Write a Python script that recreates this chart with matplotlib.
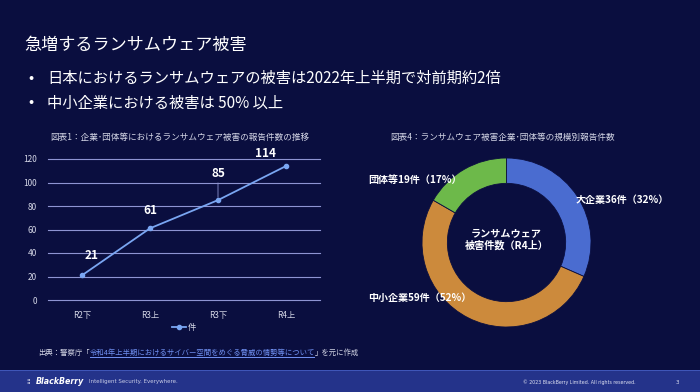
import matplotlib
matplotlib.use('Agg')
import matplotlib.pyplot as plt
from matplotlib.patches import Rectangle
import numpy as np

plt.rcParams['font.family'] = ['Noto Sans CJK JP', 'DejaVu Sans']

# data
periods = ['R2下', 'R3上', 'R3下', 'R4上']
counts = [21, 61, 85, 114]

size_labels = ['大企業', '中小企業', '団体等']
size_counts = [36, 59, 19]
size_pcts = [32, 52, 17]

BG = '#0a0e3f'
GRID = '#8e94d2'
TXT = '#d4d6e6'
LINE = '#7aa6f2'
LINK = '#6f8ff0'
pie_colors = ['#4a6cd0', '#cc8a3c', '#6db94a']

fig = plt.figure(figsize=(7, 3.92), dpi=100)
fig.patch.set_facecolor(BG)

# slide header
fig.text(24 / 700, 1 - 45 / 392, '急増するランサムウェア被害', color='white',
         fontsize=12.3, va='center', ha='left')
fig.text(28 / 700, 1 - 78 / 392, '•', color='white', fontsize=11, va='center')
fig.text(47 / 700, 1 - 78 / 392, '日本におけるランサムウェアの被害は2022年上半期で対前期約2倍',
         color='white', fontsize=11, va='center')
fig.text(28 / 700, 1 - 103 / 392, '•', color='white', fontsize=11, va='center')
fig.text(47 / 700, 1 - 103 / 392, '中小企業における被害は 50% 以上',
         color='white', fontsize=11, va='center')

# ---- line chart ----
ax = fig.add_axes([48 / 700, 1 - 300 / 392, 272 / 700, 141 / 392])
ax.set_facecolor(BG)
x = np.arange(len(periods))
ax.plot(x, counts, color=LINE, lw=1.3, marker='o', ms=3, label='件')
ax.set_xlim(-0.5, len(periods) - 0.5)
ax.set_ylim(0, 120)
ax.set_yticks(range(0, 121, 20))
ax.set_xticks(x)
ax.set_xticklabels(periods)
ax.grid(axis='y', color=GRID, lw=0.8)
for gl in ax.get_ygridlines():
    gl.set_clip_on(False)
ax.set_axisbelow(True)
for s in ax.spines.values():
    s.set_visible(False)
ax.tick_params(length=0, colors=TXT, labelsize=6)
ax.tick_params(axis='y', pad=8)
ax.tick_params(axis='x', pad=8)

offsets = [(10, 13), (0, 11), (0, 20), (-20, 6)]
for xi, v, off in zip(x, counts, offsets):
    arrow = dict(arrowstyle='-', color=GRID, lw=0.6, shrinkA=0, shrinkB=2) if off[1] > 15 else None
    ax.annotate(str(v), (xi, v), xytext=off, textcoords='offset pixels',
                ha='center', va='bottom',
                color='white', fontsize=8.5, fontweight='bold', arrowprops=arrow)

ax.legend(loc='upper center', bbox_to_anchor=(0.5, -0.11), frameon=False,
          fontsize=6, labelcolor=TXT, handlelength=1.6, handletextpad=0.2)
fig.text(180 / 700, 1 - 137 / 392,
         '図表1：企業･団体等におけるランサムウェア被害の報告件数の推移',
         color=TXT, fontsize=6.2, ha='center', va='center')

# ---- donut chart ----
r_px = 84.5
cx, cy = 506.5, 242.5
ax2 = fig.add_axes([(cx - r_px) / 700, 1 - (cy + r_px) / 392, 2 * r_px / 700, 2 * r_px / 392])
ax2.pie(size_counts, colors=pie_colors, startangle=90, counterclock=False,
        wedgeprops=dict(width=0.3, edgecolor=BG, linewidth=0.6))
ax2.set_xlim(-1, 1)
ax2.set_ylim(-1, 1)
ax2.axis('off')

label_pos = [(0.82, 0.50), (-1.64, -0.66), (-1.64, 0.74)]
for (lx, ly), name, c, p in zip(label_pos, size_labels, size_counts, size_pcts):
    ax2.text(lx, ly, f'{name}{c}件（{p}%）', color='white', fontsize=7.2,
             fontweight='bold', ha='left', va='center', clip_on=False)
ax2.text(0, 0.03, 'ランサムウェア\n被害件数（R4上）', color='white', fontsize=7.3,
         fontweight='bold', ha='center', va='center', linespacing=1.2)
fig.text(390 / 700, 1 - 137 / 392, '図表4：ランサムウェア被害企業･団体等の規模別報告件数',
         color=TXT, fontsize=6.2, ha='left', va='center')

# ---- source note (pieces chained left to right) ----
fig.canvas.draw()
renderer = fig.canvas.get_renderer()
src_y = 1 - 353 / 392
pieces = [('出典：警察庁「', TXT, False),
          ('令和4年上半期におけるサイバー空間をめぐる脅威の情勢等について', LINK, True),
          ('」を元に作成', TXT, False)]
xpos = 38
for s, col, under in pieces:
    t = fig.text(xpos / 700, src_y, s, color=col, fontsize=5.3, va='center')
    bb = t.get_window_extent(renderer)
    if under:
        fig.add_artist(Rectangle((bb.x0 / 700, 1 - 357.5 / 392), bb.width / 700, 0.6 / 392,
                                 transform=fig.transFigure, color=col, lw=0))
    xpos = bb.x1

# ---- footer bar ----
fig.add_artist(Rectangle((0, 0), 1, 22 / 392, transform=fig.transFigure,
                         color='#24338a', lw=0, zorder=0))
fig.add_artist(Rectangle((0, 21.5 / 392), 1, 1 / 392, transform=fig.transFigure,
                         color='#3f56b8', lw=0, zorder=0))
fig.text(26 / 700, 10 / 392, '⁞⁞', color='white', fontsize=5, va='center')
fig.text(36 / 700, 10 / 392, 'BlackBerry', color='white', fontsize=5.7,
         fontweight='bold', style='italic', va='center', family='DejaVu Sans')
fig.text(89 / 700, 10 / 392, 'Intelligent Security. Everywhere.', color='#c8cce6',
         fontsize=4.0, va='center', family='DejaVu Sans')
fig.text(523 / 700, 10 / 392, '© 2023 BlackBerry Limited. All rights reserved.',
         color='#dfe2f2', fontsize=3.4, va='center', family='DejaVu Sans')
fig.text(676 / 700, 10 / 392, '3', color='#dfe2f2', fontsize=4, va='center',
         family='DejaVu Sans')

fig.savefig('out.png', dpi=100, facecolor=BG)
